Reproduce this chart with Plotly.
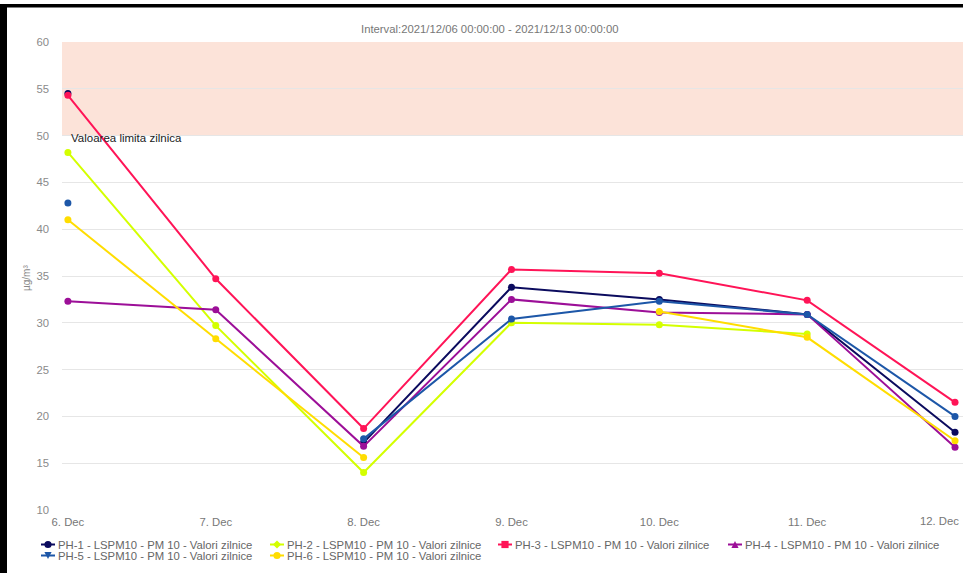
import plotly.graph_objects as go

dates = ["6. Dec", "7. Dec", "8. Dec", "9. Dec", "10. Dec", "11. Dec", "12. Dec"]
ph1 = [54.5, None, 17.2, 33.8, 32.5, 30.9, 18.3]
ph2 = [48.2, 29.7, 14.0, 30.0, 29.8, 28.8, None]
ph3 = [54.3, 34.7, 18.7, 35.7, 35.3, 32.4, 21.5]
ph4 = [32.3, 31.4, 16.8, 32.5, 31.1, 30.9, 16.7]
ph5 = [42.8, None, 17.6, 30.4, 32.3, 30.9, 20.0]
ph6 = [41.0, 28.3, 15.6, None, 31.2, 28.45, 17.4]

names = [
    "PH-1 - LSPM10 - PM 10 - Valori zilnice",
    "PH-2 - LSPM10 - PM 10 - Valori zilnice",
    "PH-3 - LSPM10 - PM 10 - Valori zilnice",
    "PH-4 - LSPM10 - PM 10 - Valori zilnice",
    "PH-5 - LSPM10 - PM 10 - Valori zilnice",
    "PH-6 - LSPM10 - PM 10 - Valori zilnice",
]
series = [ph1, ph2, ph3, ph4, ph5, ph6]
colors = ["#0b0b5e", "#d4ff00", "#ff1457", "#9c0f98", "#1d57a8", "#ffdd00"]
legend_symbols = ["circle", "diamond", "square", "triangle-up", "triangle-down", "circle"]

limit_low, limit_high = 50, 60
title_text = "Interval:2021/12/06 00:00:00 - 2021/12/13 00:00:00"
limit_label = "Valoarea limita zilnica"

W, H = 963, 573
ML, MR, MT, MB = 62, 0, 42, 63
PW = W - ML - MR
PH = H - MT - MB

def px_x(p):
    return (p - ML) / PW

def px_y(p):
    return 1 - (p - MT) / PH

FONT = "Liberation Sans, Arial, sans-serif"

fig = go.Figure()
for name, ys, col in zip(names, series, colors):
    fig.add_trace(go.Scatter(
        x=list(range(len(dates))), y=ys, name=name, mode="lines+markers",
        line=dict(color=col, width=2), marker=dict(color=col, size=7, symbol="circle"),
        connectgaps=False, showlegend=False,
    ))

fig.add_shape(type="rect", xref="paper", yref="y", x0=0, x1=1, y0=limit_low, y1=limit_high,
              fillcolor="rgba(243,143,103,0.25)", line=dict(width=0), layer="between")

# black frame of the screenshot
fig.add_shape(type="rect", xref="paper", yref="paper", x0=px_x(0), x1=px_x(7),
              y0=px_y(H + 5), y1=px_y(4), fillcolor="black", line=dict(width=0), layer="above")
fig.add_shape(type="rect", xref="paper", yref="paper", x0=px_x(0), x1=px_x(W + 5),
              y0=px_y(7.5), y1=px_y(4), fillcolor="black", line=dict(width=0), layer="above")

# manual legend (Highcharts-style short symbols)
col_text_x = [58, 287, 515, 745]
row_y = [544.5, 555.5]
LEG_FONT = dict(family=FONT, size=11.3, color="#666666")
for i, (name, col, sym) in enumerate(zip(names, colors, legend_symbols)):
    r, c = (0, i) if i < 4 else (1, i - 4)
    tx, ty = col_text_x[c], row_y[r]
    x0, x1 = tx - 17, tx - 3
    cx = (x0 + x1) / 2
    fig.add_shape(type="line", xref="paper", yref="paper", x0=px_x(x0), x1=px_x(x1),
                  y0=px_y(ty), y1=px_y(ty), line=dict(color=col, width=2))
    s = 3.6
    if sym == "circle":
        fig.add_shape(type="circle", xref="paper", yref="paper", x0=px_x(cx - s), x1=px_x(cx + s),
                      y0=px_y(ty + s), y1=px_y(ty - s), fillcolor=col, line=dict(width=0))
    elif sym == "square":
        fig.add_shape(type="rect", xref="paper", yref="paper", x0=px_x(cx - s), x1=px_x(cx + s),
                      y0=px_y(ty + s), y1=px_y(ty - s), fillcolor=col, line=dict(width=0))
    else:
        if sym == "diamond":
            pts = [(cx, ty - s - 0.5), (cx + s + 0.5, ty), (cx, ty + s + 0.5), (cx - s - 0.5, ty)]
        elif sym == "triangle-up":
            pts = [(cx, ty - s), (cx + s, ty + s), (cx - s, ty + s)]
        else:
            pts = [(cx, ty + s), (cx + s, ty - s), (cx - s, ty - s)]
        path = "M " + " L ".join(f"{px_x(a):.5f},{px_y(b):.5f}" for a, b in pts) + " Z"
        fig.add_shape(type="path", xref="paper", yref="paper", path=path,
                      fillcolor=col, line=dict(width=0))
    fig.add_annotation(text=name, xref="paper", yref="paper", x=px_x(tx - 2), y=px_y(ty),
                       showarrow=False, font=LEG_FONT, xanchor="left", yanchor="middle")

fig.add_annotation(text=title_text, xref="paper", yref="paper", x=px_x(490), y=px_y(29),
                   showarrow=False, font=dict(family=FONT, size=11.3, color="#777777"),
                   xanchor="center", yanchor="middle")
fig.add_annotation(text=limit_label, xref="x", yref="y", x=0.0, y=limit_low, xshift=1, yshift=-2,
                   showarrow=False, font=dict(family=FONT, size=11.5, color="#222222"),
                   xanchor="left", yanchor="middle")
fig.add_annotation(text="µg/m³", xref="paper", yref="paper", x=px_x(26), y=px_y(278),
                   showarrow=False, textangle=-90, font=dict(family=FONT, size=10, color="#888888"),
                   xanchor="center", yanchor="middle")
# last category label, shifted inside the chart like Highcharts does
fig.add_annotation(text=dates[-1], xref="paper", yref="paper", x=px_x(961), y=px_y(521),
                   showarrow=False, font=dict(family=FONT, size=11.3, color="#777777"),
                   xanchor="right", yanchor="middle")

fig.update_layout(
    width=W, height=H,
    margin=dict(l=ML, r=MR, t=MT, b=MB),
    paper_bgcolor="white", plot_bgcolor="white",
    font=dict(family=FONT, size=11.3, color="#666666"),
    showlegend=False,
    xaxis=dict(
        tickmode="array", tickvals=list(range(len(dates) - 1)), ticktext=dates[:-1],
        range=[-0.04, 6.054], showgrid=False, zeroline=False, showline=False,
        ticks="", ticklabelstandoff=4, tickfont=dict(size=11.3, color="#777777"),
    ),
    yaxis=dict(
        range=[10, 60], dtick=5, tick0=10, showgrid=True, gridcolor="#e6e6e6", gridwidth=1,
        zeroline=False, showline=False, ticks="", ticklabelstandoff=12,
        tickfont=dict(size=11.3, color="#8a8a8a"),
    ),
)

fig.write_html("out.html", config={"displayModeBar": False},
               post_script="document.body.style.margin='0';document.body.style.overflow='hidden';")
